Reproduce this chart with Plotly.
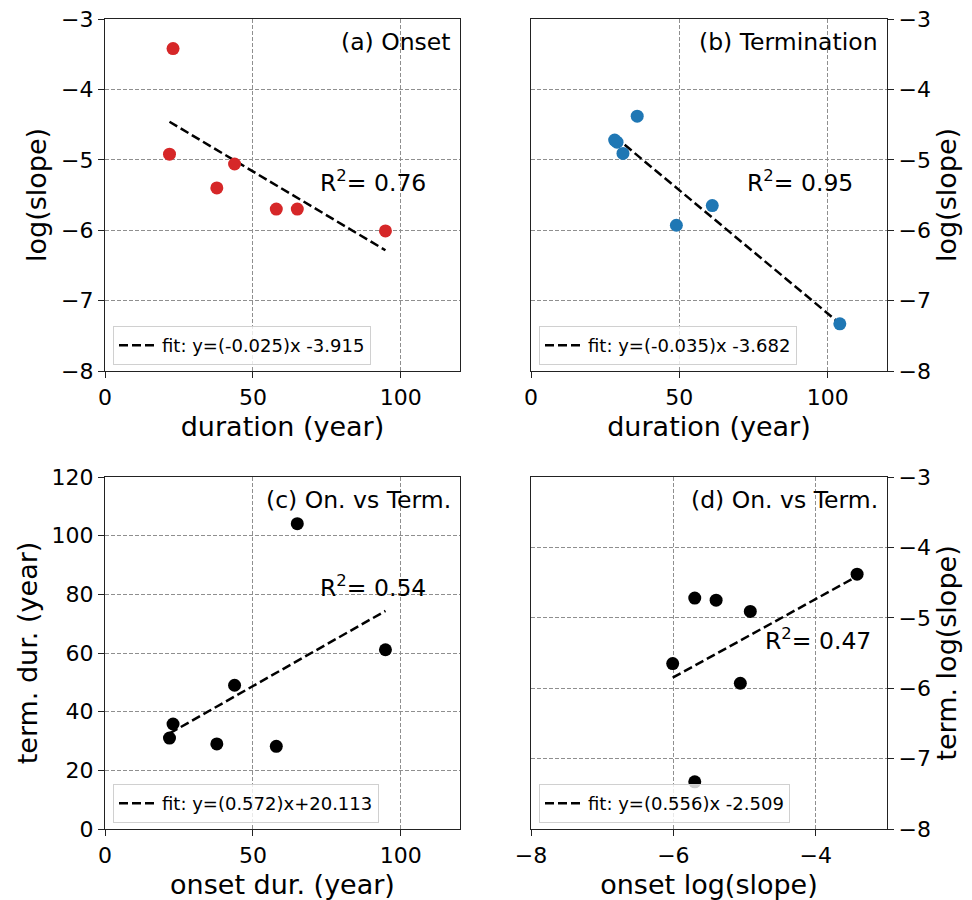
import plotly.graph_objects as go

# ---------------- data ----------------
onset_dur = [21.8, 23.0, 37.8, 43.8, 57.9, 65.0, 94.8]
onset_logslope = [-4.92, -3.42, -5.40, -5.06, -5.70, -5.70, -6.01]
term_dur = [31.0, 35.8, 29.0, 49.0, 28.2, 104.1, 61.1]
term_logslope = [-4.91, -4.38, -4.75, -5.93, -4.72, -7.33, -5.65]

# fit coefficients (slope, intercept) and R^2 as printed in the figure
fit_a = [-0.025, -3.915]
fit_b = [-0.035, -3.682]
fit_c = [0.572, 20.113]
fit_d = [0.556, -2.509]
r2_values = [0.76, 0.95, 0.54, 0.47]
fit_labels = ["fit: y=(-0.025)x -3.915", "fit: y=(-0.035)x -3.682",
              "fit: y=(0.572)x+20.113", "fit: y=(0.556)x -2.509"]
panel_titles = ["(a) Onset", "(b) Termination", "(c) On. vs Term.", "(d) On. vs Term."]
r2_pos = [(72, -5.31), (72, -5.31), (72, 82.7), (-4.74, -5.31)]

# the page body has an 8px margin, so the figure is shifted by OFF
OFF = 8
W, H = 972 - OFF, 900 - OFF
FONT = "DejaVu Sans"
RED, BLUE, BLACK = "#d62728", "#1f77b4", "#000000"

# axes boxes in page pixels
px_x = [(105, 460), (531, 887), (105, 460), (531, 887)]
px_y = [(19, 371), (19, 371), (477, 829), (477, 829)]


def dom_x(p):
    return [(p[0] - OFF) / W, (p[1] - OFF) / W]


def dom_y(p):
    return [1 - (p[1] - OFF) / H, 1 - (p[0] - OFF) / H]


fig = go.Figure()

panels = [
    (onset_dur, onset_logslope, fit_a, RED),
    (term_dur, term_logslope, fit_b, BLUE),
    (onset_dur, term_dur, fit_c, BLACK),
    (onset_logslope, term_logslope, fit_d, BLACK),
]

for i, (xs, ys, fit, col) in enumerate(panels):
    ax = "" if i == 0 else str(i + 1)
    lg = "legend" if i == 0 else f"legend{i + 1}"
    x0, x1 = min(xs), max(xs)
    fig.add_trace(go.Scatter(
        x=[x0, x1], y=[fit[0] * x0 + fit[1], fit[0] * x1 + fit[1]],
        mode="lines", line=dict(color="black", width=2.5, dash="9px,4px"),
        name=fit_labels[i], xaxis="x" + ax, yaxis="y" + ax, legend=lg,
        showlegend=True))
    fig.add_trace(go.Scatter(
        x=xs, y=ys, mode="markers",
        marker=dict(color=col, size=13, line=dict(width=0)),
        xaxis="x" + ax, yaxis="y" + ax, showlegend=False))

axis_common = dict(
    showline=True, linecolor="#222222", linewidth=1.3, mirror=True,
    ticks="outside", ticklen=6, tickwidth=1.3, tickcolor="#222222",
    showgrid=True, gridcolor="#8f8f8f", gridwidth=1, griddash="4px,2px",
    zeroline=False, tickfont=dict(family=FONT, size=22, color="black"),
    ticklabeloverflow="allow", automargin=False,
)

xtitles = ["duration (year)", "duration (year)", "onset dur. (year)", "onset log(slope)"]
ytitles = ["log(slope)", "log(slope)", "term. dur. (year)", "term. log(slope)"]
xranges = [[0, 120], [0, 120], [0, 120], [-8, -3]]
xdticks = [50, 50, 50, 2]
yranges = [[-8, -3], [-8, -3], [0, 120], [-8, -3]]
ydticks = [1, 1, 20, 1]
yside = ["left", "right", "left", "right"]

layout = dict(
    width=W, height=H, margin=dict(l=0, r=0, t=0, b=0),
    paper_bgcolor="white", plot_bgcolor="white",
    font=dict(family=FONT, color="black"),
)

annotations = []
for i in range(4):
    ax = "" if i == 0 else str(i + 1)
    layout["xaxis" + ax] = dict(
        axis_common, domain=dom_x(px_x[i]), range=xranges[i],
        tick0=xranges[i][0], dtick=xdticks[i], anchor="y" + ax,
        title=dict(text=xtitles[i], font=dict(family=FONT, size=27), standoff=8),
    )
    layout["yaxis" + ax] = dict(
        axis_common, domain=dom_y(px_y[i]), range=yranges[i],
        tick0=yranges[i][0], dtick=ydticks[i], anchor="x" + ax, side=yside[i],
        title=dict(text=ytitles[i], font=dict(family=FONT, size=27), standoff=6),
    )
    lg = "legend" if i == 0 else f"legend{i + 1}"
    layout[lg] = dict(
        x=(px_x[i][0] + 8 - OFF) / W, y=1 - (px_y[i][1] - 6 - OFF) / H,
        xanchor="left", yanchor="bottom",
        bgcolor="rgba(255,255,255,0.8)", bordercolor="#d0d0d0", borderwidth=1,
        font=dict(family=FONT, size=18, color="black"),
        itemwidth=38, tracegroupgap=0,
    )
    annotations.append(dict(
        text=panel_titles[i], xref=f"x{ax} domain", yref=f"y{ax} domain",
        x=1 - 7 / 355, y=1 - 23 / 352, xanchor="right", yanchor="middle",
        showarrow=False, font=dict(family=FONT, size=23.5, color="black")))
    annotations.append(dict(
        text=f"R<sup>2</sup>= {r2_values[i]:.2f}", xref="x" + ax, yref="y" + ax,
        x=r2_pos[i][0], y=r2_pos[i][1], xanchor="left", yanchor="middle",
        showarrow=False, font=dict(family=FONT, size=23.5, color="black")))

layout["annotations"] = annotations
fig.update_layout(**layout)
fig.write_html("out.html")
